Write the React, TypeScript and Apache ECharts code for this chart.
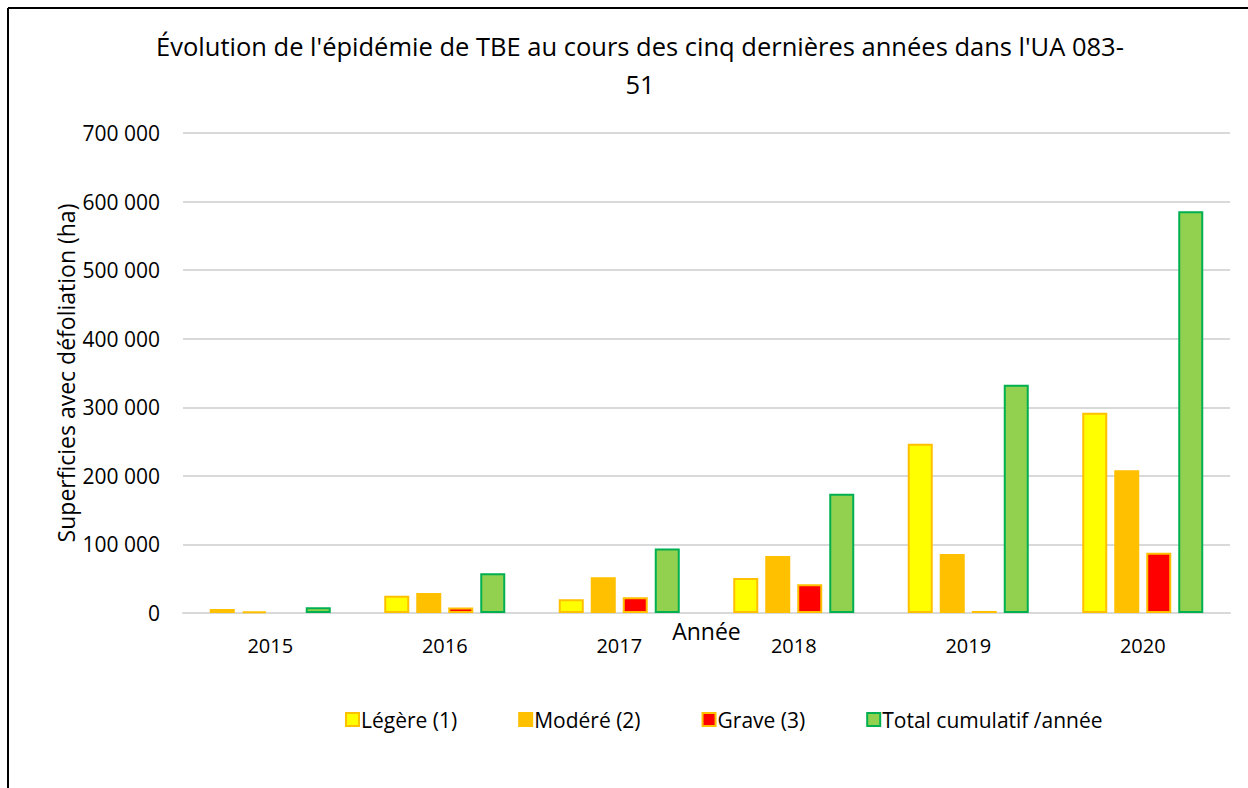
import React, { useEffect, useRef } from "react";
import * as echarts from "echarts";

const categories = ["2015", "2016", "2017", "2018", "2019", "2020"];
const legere = [6000, 25000, 20000, 51000, 247000, 292000];
const modere = [2500, 29000, 52000, 83000, 86000, 208000];
const grave: (number | null)[] = [null, 8000, 23000, 42000, 3000, 88000];
const total = [8500, 58000, 94000, 174000, 333000, 586000];
const seriesNames = ["Légère (1)", "Modéré (2)", "Grave (3)", "Total cumulatif /année"];

const FONT = "'Open Sans', 'Noto Sans', sans-serif";

function fmt(v: number) {
  return String(v).replace(/\B(?=(\d{3})+(?!\d))/g, " ");
}

export default function App() {
  const ref = useRef<HTMLDivElement>(null);
  useEffect(() => {
    if (!ref.current) return;
    const chart = echarts.init(ref.current, null, { renderer: "svg" });
    const mk = (name: string, data: (number | null)[], fill: string, border: string) => ({
      name,
      type: "bar",
      data,
      barWidth: 25,
      barGap: "28%",
      itemStyle: { color: fill, borderColor: border, borderWidth: 2 },
    });
    chart.setOption({
      animation: false,
      backgroundColor: "#ffffff",
      textStyle: { fontFamily: FONT },
      title: {
        text: "Évolution de l'épidémie de TBE au cours des cinq dernières années dans l'UA 083-\n51",
        left: 635,
        textAlign: "center",
        top: 22,
        textStyle: { fontFamily: FONT, fontSize: 25.5, fontWeight: "normal", color: "#000", lineHeight: 38 },
      },
      legend: {
        left: 340,
        top: 704,
        icon: "rect",
        itemWidth: 13,
        itemHeight: 13,
        itemGap: 61,
        textStyle: { fontFamily: FONT, fontSize: 21, color: "#000", padding: [0, 0, 0, -3] },
        data: seriesNames,
      },
      grid: { left: 183, right: 18, top: 133, bottom: 175 },
      xAxis: {
        type: "category",
        data: categories,
        name: "Année",
        nameLocation: "middle",
        nameGap: 6,
        nameMoveOverlap: false,
        nameTextStyle: { fontFamily: FONT, fontSize: 23, color: "#000" },
        axisLine: { lineStyle: { color: "#D9D9D9", width: 2 } },
        axisTick: { show: false },
        axisLabel: { fontFamily: FONT, fontSize: 20, color: "#000", margin: 22 },
      },
      yAxis: {
        type: "value",
        min: 0,
        max: 700000,
        interval: 100000,
        name: "Superficies avec défoliation (ha)",
        nameLocation: "middle",
        nameGap: 106,
        nameMoveOverlap: false,
        nameTextStyle: { fontFamily: FONT, fontSize: 23, color: "#000" },
        axisLine: { show: false },
        axisTick: { show: false },
        axisLabel: { fontFamily: FONT, fontSize: 21, color: "#000", margin: 23, formatter: (v: number) => fmt(v) },
        splitLine: { lineStyle: { color: "#D9D9D9", width: 2 } },
      },
      graphic: [
        { type: "line", shape: { x1: 8, y1: 8, x2: 1260, y2: 8 }, style: { stroke: "#000", lineWidth: 2 } },
        { type: "line", shape: { x1: 8, y1: 8, x2: 8, y2: 800 }, style: { stroke: "#000", lineWidth: 2 } },
      ],
      series: [
        mk(seriesNames[0], legere, "#FFFF00", "#FFC000"),
        mk(seriesNames[1], modere, "#FFC000", "#FFC000"),
        mk(seriesNames[2], grave, "#FF0000", "#FFC000"),
        mk(seriesNames[3], total, "#92D050", "#00B050"),
      ],
    });
    return () => chart.dispose();
  }, []);
  return (
    <div style={{ position: "fixed", left: 0, top: 0, width: 1248, height: 788, overflow: "hidden" }}>
      <div ref={ref} style={{ width: 1248, height: 788 }} />
    </div>
  );
}
